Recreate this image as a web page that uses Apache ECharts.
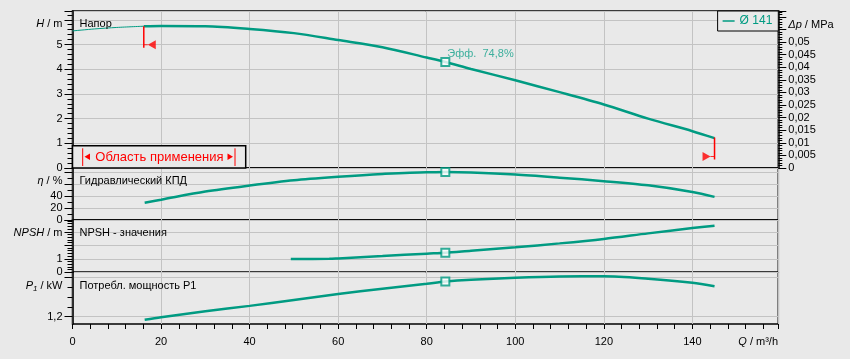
<!DOCTYPE html>
<html><head><meta charset="utf-8">
<script src="https://cdn.jsdelivr.net/npm/echarts@6/dist/echarts.min.js"></script>
<style>html,body{margin:0;padding:0;background:#e9e9e9;}#c{width:850px;height:359px;}</style>
</head><body><div id="c"></div>
<script>
// ---------- data ----------
const qLabelTicks = [0, 20, 40, 60, 80, 100, 120, 140];
const headThinQ = [0, 5, 10, 16.1];
const headThin  = [5.55, 5.63, 5.69, 5.74];
const headQ = [16.1, 20, 30, 40, 50, 60, 70, 80, 84.2, 90, 100, 110, 120, 130, 140, 145];
const head  = [5.74, 5.75, 5.74, 5.63, 5.46, 5.18, 4.89, 4.47, 4.29, 4.01, 3.55, 3.07, 2.57, 2.0, 1.49, 1.21];
const etaQ = [16.3, 20, 30, 40, 50, 60, 70, 80, 84.2, 90, 100, 110, 120, 130, 140, 145];
const eta  = [29, 34, 47.6, 57.7, 66.5, 72.3, 77, 80, 80.1, 79.3, 76, 70.8, 65, 58, 47, 38.7];
const npshQ = [49.3, 58, 60, 70, 80, 84.2, 90, 100, 110, 120, 130, 140, 145];
const npsh  = [0.99, 1.0, 1.03, 1.2, 1.38, 1.45, 1.6, 1.85, 2.14, 2.47, 2.88, 3.27, 3.45];
const p1Q = [16.3, 20, 30, 40, 50, 60, 70, 80, 84.2, 90, 100, 110, 120, 130, 140, 145];
const p1  = [1.17, 1.195, 1.255, 1.31, 1.37, 1.43, 1.485, 1.535, 1.557, 1.575, 1.595, 1.608, 1.61, 1.585, 1.545, 1.51];
const bepQ = [84.2];
const bepHead = [4.29], bepEta = [80.1], bepNpsh = [1.45], bepP1 = [1.557];
const rangeQ = [16.1, 145];
const rangeLineTop = [5.74, 1.23];
const rangeLineBottom = [4.87, 0.34];
const rangeArrow = [4.99, 0.47];
const effText = 'Эфф.  74,8%';
const legendName = 'Ø 141';
const rangeText = 'Область применения';
const p1MajorTicks = [1.2, 1.6], p1MinorTicks = [1.3, 1.4, 1.5], p1LabelTicks = [1.2];
const hMax = 6.356, qMax = 159.4, etaMax = 87, npshMax = 3.87, p1Min = 1.126, p1Max = 1.651;
const mPerMPa = 0.00980665;

// ---------- style ----------
const TEAL = '#009b82', RED = '#ff0000', GRID = '#c3c3c3', BG = '#e9e9e9';
const FF = 'Liberation Sans, Arial, sans-serif';
const L = 72.5, R = 71.7;
const panels = [{top: 11, h: 157}, {top: 168, h: 52}, {top: 220, h: 52.3}, {top: 272.3, h: 51.7}];
const zip = (a, b) => a.map((v, i) => [v, b[i]]);
const comma = v => String(+(+v).toFixed(4)).replace('.', ',');

const grids = panels.map(p => ({left: L, right: R, top: p.top, height: p.h, show: true,
  borderColor: '#000', borderWidth: 1.5, backgroundColor: 'transparent'}));

const xAxes = panels.map((p, i) => ({
  type: 'value', gridIndex: i, position: 'bottom', min: 0, max: qMax, interval: 20,
  axisLine: {show: false}, axisTick: {show: false},
  axisLabel: {show: i === 3, margin: 12, fontSize: 11, fontFamily: FF, color: '#000',
    formatter: v => qLabelTicks.indexOf(v) >= 0 ? String(v) : ''},
  splitLine: {show: true, lineStyle: {color: GRID, width: 1}}
}));
xAxes.push({type: 'value', gridIndex: 3, position: 'bottom', min: 0, max: qMax, interval: 4,
  axisLine: {show: false}, axisLabel: {show: false}, splitLine: {show: false},
  axisTick: {show: true, length: 5, lineStyle: {color: '#000', width: 1}}});

const tick = (len) => ({show: true, length: len, lineStyle: {color: '#000', width: 1}});
const minor = (n, len) => ({show: true, splitNumber: n, length: len, lineStyle: {color: '#000', width: 1}});
const lbl = (f) => ({fontSize: 11, fontFamily: FF, color: '#000', margin: 10, formatter: f});
const axLine = {show: true, lineStyle: {color: '#000', width: 1.5}};

const yAxes = [
  {type: 'value', gridIndex: 0, position: 'left', min: 0, max: hMax, interval: 1, axisLine: axLine,
   axisTick: tick(8), minorTick: minor(5, 5), axisLabel: lbl(v => v <= 5.001 ? String(v) : ''),
   splitLine: {show: true, lineStyle: {color: GRID}}},
  {type: 'value', gridIndex: 0, position: 'right', min: 0, max: hMax * mPerMPa, interval: 0.005,
   axisLine: axLine, axisTick: tick(8), minorTick: minor(5, 4),
   axisLabel: lbl(v => v <= 0.0501 ? comma(v) : ''), splitLine: {show: false}},
  {type: 'value', gridIndex: 1, position: 'left', min: 0, max: etaMax, interval: 20, axisLine: axLine,
   axisTick: tick(8), minorTick: minor(2, 5), axisLabel: lbl(v => v <= 40.001 ? String(v) : ''),
   splitLine: {show: true, lineStyle: {color: GRID}}},
  {type: 'value', gridIndex: 2, position: 'left', min: 0, max: npshMax, interval: 1, axisLine: axLine,
   axisTick: tick(8), minorTick: minor(5, 5), axisLabel: lbl(v => v <= 1.001 ? String(v) : ''),
   splitLine: {show: true, lineStyle: {color: GRID}}},
  {type: 'value', gridIndex: 3, position: 'left', min: p1Min, max: p1Max, axisLine: axLine,
   axisTick: Object.assign(tick(8), {customValues: p1MajorTicks}),
   axisLabel: Object.assign(lbl(v => comma(v)), {customValues: p1LabelTicks}),
   splitLine: {show: true, lineStyle: {color: GRID}}},
  {type: 'value', gridIndex: 3, position: 'left', min: p1Min, max: p1Max, axisLine: {show: false},
   axisTick: Object.assign(tick(5), {customValues: p1MinorTicks}),
   axisLabel: {show: false}, splitLine: {show: false}}
];

const curve = (name, xi, yi, data, w) => ({type: 'line', name, xAxisIndex: xi, yAxisIndex: yi,
  data, smooth: 0.3, symbol: 'none', color: TEAL, lineStyle: {color: TEAL, width: w}, z: 3, silent: true});
const bep = (xi, yi, data, label) => ({type: 'scatter', xAxisIndex: xi, yAxisIndex: yi, data,
  symbol: 'rect', symbolSize: 8, z: 4, silent: true,
  itemStyle: {color: '#fff', borderColor: TEAL, borderWidth: 2},
  label: label ? {show: true, formatter: label, position: [7, -3], align: 'left', verticalAlign: 'middle',
    fontSize: 11, fontFamily: FF, color: '#12a08a'} : {show: false}});

const arrowLeft = 'path://M0,4L4,4L4,5L0,5Z M4,4.5L12,0L12,9Z';
const arrowRight = 'path://M12,4L8,4L8,5L12,5Z M8,4.5L0,0L0,9Z';

const series = [
  curve('thin', 0, 0, zip(headThinQ, headThin), 1),
  curve(legendName, 0, 0, zip(headQ, head), 2.5),
  bep(0, 0, zip(bepQ, bepHead), effText),
  {type: 'line', xAxisIndex: 0, yAxisIndex: 0, data: [[rangeQ[0], rangeLineTop[0]], [rangeQ[0], rangeLineBottom[0]]],
   symbol: 'none', lineStyle: {color: RED, width: 1.5}, z: 5, silent: true},
  {type: 'line', xAxisIndex: 0, yAxisIndex: 0, data: [[rangeQ[1], rangeLineTop[1]], [rangeQ[1], rangeLineBottom[1]]],
   symbol: 'none', lineStyle: {color: RED, width: 1.5}, z: 5, silent: true},
  {type: 'scatter', xAxisIndex: 0, yAxisIndex: 0, z: 5, silent: true, symbolSize: [12, 9],
   itemStyle: {color: RED},
   data: [{value: [rangeQ[0], rangeArrow[0]], symbol: arrowLeft, symbolOffset: [6, 0]},
          {value: [rangeQ[1], rangeArrow[1]], symbol: arrowRight, symbolOffset: [-6, 0]}]},
  curve('eta', 1, 2, zip(etaQ, eta), 2.5),
  bep(1, 2, zip(bepQ, bepEta)),
  curve('npsh', 2, 3, zip(npshQ, npsh), 2.5),
  bep(2, 3, zip(bepQ, bepNpsh)),
  curve('p1', 3, 4, zip(p1Q, p1), 2.5),
  bep(3, 4, zip(bepQ, bepP1))
];

const txt = (x, y, text, align, rich, color, size) => ({type: 'text', x, y, z: 20, silent: true,
  style: {text, align, verticalAlign: 'middle', fontSize: size || 11, fontFamily: FF, fill: color || '#000',
    rich: rich || {}}});
const it = {i: {fontStyle: 'italic', fontSize: 11, fontFamily: FF, fill: '#000'},
            s: {fontStyle: 'italic', fontSize: 8, fontFamily: FF, fill: '#000', padding: [6, 0, 0, 0]}};
const unitX = 62.5, titleX = 79.5, off = 13.4;

const graphic = [
  txt(unitX, panels[0].top + off, '{i|H} / m', 'right', it),
  txt(unitX, panels[1].top + off, '{i|η} / %', 'right', it),
  txt(unitX, panels[2].top + off, '{i|NPSH} / m', 'right', it),
  txt(unitX, panels[3].top + off, '{i|P}{s|1} / kW', 'right', it),
  txt(788.3, 25, '{i|Δp} / MPa', 'left', it),
  txt(778, 342, '{i|Q} / m³/h', 'right', it),
  txt(titleX, panels[0].top + off, 'Напор', 'left'),
  txt(titleX, panels[1].top + off, 'Гидравлический КПД', 'left'),
  txt(titleX, panels[2].top + off, 'NPSH - значения', 'left'),
  txt(titleX, panels[3].top + off, 'Потребл. мощность P1', 'left'),
  {type: 'rect', z: 15, silent: true, shape: {x: L, y: 145.7, width: 173.2, height: 22.3},
   style: {fill: BG, stroke: '#000', lineWidth: 1.5}},
  {type: 'line', z: 16, silent: true, shape: {x1: 82.7, y1: 148.3, x2: 82.7, y2: 166}, style: {stroke: RED, lineWidth: 1}},
  {type: 'line', z: 16, silent: true, shape: {x1: 235, y1: 148.3, x2: 235, y2: 166}, style: {stroke: RED, lineWidth: 1}},
  {type: 'polygon', z: 16, silent: true, shape: {points: [[84.5, 156.7], [90, 153.4], [90, 160]]}, style: {fill: RED}},
  {type: 'polygon', z: 16, silent: true, shape: {points: [[233, 156.7], [227.5, 153.4], [227.5, 160]]}, style: {fill: RED}},
  txt(95.3, 157, rangeText, 'left', null, RED, 13)
];

const chart = echarts.init(document.getElementById('c'), null, {renderer: 'canvas'});
chart.setOption({
  backgroundColor: BG,
  animation: false,
  grid: grids,
  xAxis: xAxes,
  yAxis: yAxes,
  legend: {show: true, right: R, top: panels[0].top, orient: 'horizontal', selectedMode: false,
    data: [{name: legendName, icon: 'rect'}], itemWidth: 12, itemHeight: 1.5,
    padding: [4, 6, 4, 5], borderColor: '#000', borderWidth: 1, backgroundColor: BG,
    textStyle: {color: TEAL, fontSize: 12, fontFamily: FF}},
  series,
  graphic
});
</script></body></html>
